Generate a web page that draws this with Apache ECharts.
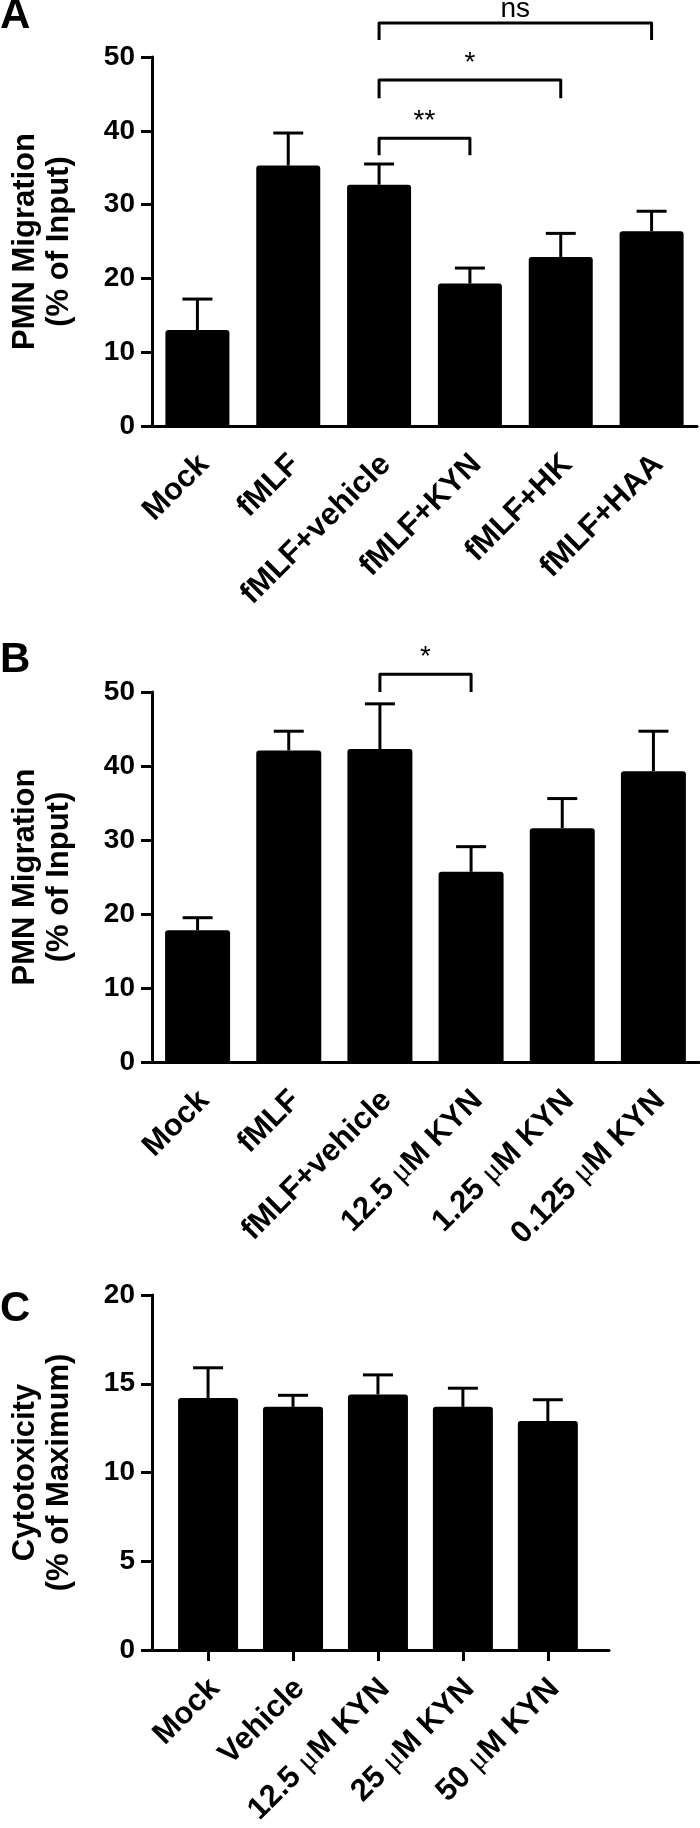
<!DOCTYPE html>
<html><head><meta charset="utf-8">
<script src="https://cdn.jsdelivr.net/npm/echarts@6/dist/echarts.min.js"></script>
<style>html,body{margin:0;padding:0;background:#fff}#c{width:700px;height:1828px}</style>
</head><body><div id="c"></div>
<script>
// ---- data ----
const catsA = ['Mock', 'fMLF', 'fMLF+vehicle', 'fMLF+KYN', 'fMLF+HK', 'fMLF+HAA'];
const meanA = [13.0, 35.3, 32.7, 19.3, 22.9, 26.4];
const semA  = [4.2, 4.4, 2.8, 2.1, 3.2, 2.7];
const catsB = ['Mock', 'fMLF', 'fMLF+vehicle', '12.5 μM KYN', '1.25 μM KYN', '0.125 μM KYN'];
const meanB = [17.8, 42.1, 42.3, 25.7, 31.6, 39.3];
const semB  = [1.7, 2.6, 6.1, 3.4, 4.0, 5.4];
const catsC = ['Mock', 'Vehicle', '12.5 μM KYN', '25 μM KYN', '50 μM KYN'];
const meanC = [14.2, 13.7, 14.4, 13.7, 12.9];
const semC  = [1.7, 0.65, 1.1, 1.05, 1.2];
// comparisons: [fromIndex, toIndex, bracketLevel, legEnd, label]
const sigA = [[2, 5, 54.6, 52.3, 'ns'], [2, 4, 46.9, 44.4, '*'], [2, 3, 39.0, 36.7, '**']];
const sigB = [[2, 3, 52.4, 50.0, '*']];

// ---- styles ----
const FONT = '"Liberation Sans", Arial, Helvetica, sans-serif';
const BLACK = '#000';

function errItem(params, api) {
  const x = api.value(0), m = api.value(1), e = api.value(2);
  const p0 = api.coord([x, m]);
  const p1 = api.coord([x, m + e]);
  const hw = 15;
  return { type: 'group', children: [
    { type: 'line', shape: { x1: p0[0], y1: p0[1], x2: p1[0], y2: p1[1] }, style: { stroke: BLACK, lineWidth: 3 } },
    { type: 'line', shape: { x1: p1[0] - hw, y1: p1[1], x2: p1[0] + hw, y2: p1[1] }, style: { stroke: BLACK, lineWidth: 3 } }
  ]};
}
function makeBr(sig) {
  return function (params, api) {
    const d = sig[params.dataIndex];
    const a1 = api.coord([d[0], d[3]]), a = api.coord([d[0], d[2]]);
    const b = api.coord([d[1], d[2]]), b1 = api.coord([d[1], d[3]]);
    return { type: 'group', children: [
      { type: 'polyline', shape: { points: [a1, a, b, b1] }, style: { stroke: BLACK, lineWidth: 3, fill: null, lineJoin: 'round' } },
      { type: 'text', x: (a[0] + b[0]) / 2, y: a[1] - (d[4] === 'ns' ? 0 : 3),
        style: { text: d[4], align: 'center', verticalAlign: 'bottom', fontSize: 28, fontFamily: FONT, fill: BLACK } }
    ]};
  };
}
function yAx(grid, max, interval, name) {
  return {
    type: 'value', gridIndex: grid, min: 0, max: max, interval: interval,
    name: name, nameLocation: 'middle', nameGap: 76,
    nameTextStyle: { fontSize: 31, fontWeight: 'bold', fontFamily: FONT, color: BLACK, lineHeight: 34 },
    axisLine: { show: true, onZero: false, lineStyle: { color: BLACK, width: 3 } },
    axisTick: { show: true, length: 11, lineStyle: { color: BLACK, width: 3 } },
    axisLabel: { fontSize: 28, fontWeight: 'bold', fontFamily: FONT, color: BLACK, margin: 17 },
    splitLine: { show: false }
  };
}
const muRich = { m: { fontWeight: 'normal', fontFamily: '"Liberation Serif", serif', fontSize: 31, color: BLACK } };
function xLabel() {
  return { interval: 0, rotate: 45, fontSize: 31, fontWeight: 'bold', fontFamily: FONT, color: BLACK,
    margin: 27, padding: [19, 0, 0, 0], rich: muRich };
}
function muFmt(s) { return s.replace('μ', '{m|μ}'); }
const xLine = { lineStyle: { color: BLACK, width: 3 } };
const xTick = { alignWithLabel: true, length: 11, lineStyle: { color: BLACK, width: 3 } };
const letter = { fontSize: 42, fontWeight: 'bold', fontFamily: FONT, color: BLACK };

const option = {
  backgroundColor: '#fff',
  animation: false,
  title: [
    { text: 'A', left: 0, top: -5, padding: 0, textStyle: letter },
    { text: 'B', left: 0, top: 639, padding: 0, textStyle: letter },
    { text: 'C', left: 0, top: 1288, padding: 0, textStyle: letter }
  ],
  grid: [
    { left: 142, top: 57, width: 555, height: 369 },
    { left: 144, top: 692, width: 555, height: 370 },
    { left: 144, top: 1295, width: 465, height: 368 }
  ],
  xAxis: [
    { type: 'category', gridIndex: 0, data: catsA, axisLine: xLine, axisTick: xTick, axisLabel: xLabel() },
    { type: 'category', gridIndex: 1, data: catsB, axisLine: xLine, axisTick: xTick,
      axisLabel: Object.assign(xLabel(), { formatter: muFmt }) },
    { type: 'value', gridIndex: 2, min: -0.66, max: 4.72,
      splitLine: { show: false },
      axisLine: { onZero: false, lineStyle: { color: BLACK, width: 3 } },
      axisTick: { customValues: [0, 1, 2, 3, 4], length: 11, lineStyle: { color: BLACK, width: 3 } },
      axisLabel: Object.assign(xLabel(), { customValues: [0, 1, 2, 3, 4], formatter: v => muFmt(catsC[Math.round(v)]) }) }
  ],
  yAxis: [
    yAx(0, 50, 10, 'PMN Migration\n(% of Input)'),
    yAx(1, 50, 10, 'PMN Migration\n(% of Input)'),
    yAx(2, 20, 5, 'Cytotoxicity\n(% of Maximum)')
  ],
  series: [
    { type: 'bar', xAxisIndex: 0, yAxisIndex: 0, data: meanA, barWidth: 64, itemStyle: { color: BLACK, borderRadius: [3, 3, 0, 0] } },
    { type: 'custom', xAxisIndex: 0, yAxisIndex: 0, renderItem: errItem, data: meanA.map((m, i) => [i, m, semA[i]]), z: 1 },
    { type: 'custom', xAxisIndex: 0, yAxisIndex: 0, renderItem: makeBr(sigA), encode: { x: [0, 1], y: [2, 3] },
      data: sigA.map(d => [d[0], d[1], d[2], d[3]]) },

    { type: 'bar', xAxisIndex: 1, yAxisIndex: 1, data: meanB, barWidth: 65, itemStyle: { color: BLACK, borderRadius: [3, 3, 0, 0] } },
    { type: 'custom', xAxisIndex: 1, yAxisIndex: 1, renderItem: errItem, data: meanB.map((m, i) => [i, m, semB[i]]), z: 1 },
    { type: 'custom', xAxisIndex: 1, yAxisIndex: 1, renderItem: makeBr(sigB), encode: { x: [0, 1], y: [2, 3] },
      data: sigB.map(d => [d[0], d[1], d[2], d[3]]) },

    { type: 'bar', xAxisIndex: 2, yAxisIndex: 2, data: meanC.map((m, i) => [i, m]), barWidth: 60, itemStyle: { color: BLACK, borderRadius: [3, 3, 0, 0] } },
    { type: 'custom', xAxisIndex: 2, yAxisIndex: 2, renderItem: errItem, data: meanC.map((m, i) => [i, m, semC[i]]), z: 1 }
  ]
};
const chart = echarts.init(document.getElementById('c'), null, { renderer: 'canvas' });
chart.setOption(option);
</script></body></html>
